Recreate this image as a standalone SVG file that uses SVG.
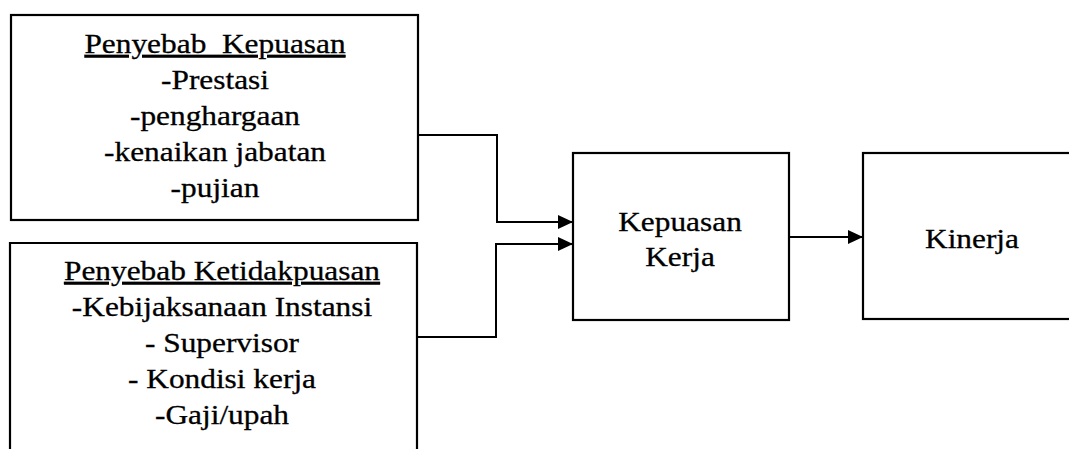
<svg xmlns="http://www.w3.org/2000/svg" width="1069" height="449" viewBox="0 0 1069 449">
<style>
.box{fill:#fff;stroke:#000;stroke-width:2.2}
.t{font-family:"Liberation Serif","Times New Roman",serif;font-size:28px;fill:#000;stroke:#000;stroke-width:0.3;text-anchor:middle}
.u{text-decoration:underline}
.c{fill:none;stroke:#000;stroke-width:2}
</style>
<defs>
<marker id="ah" markerUnits="userSpaceOnUse" markerWidth="16" markerHeight="14" refX="15" refY="7" orient="auto">
<path d="M0,0 L15,7 L0,14 z" fill="#000"/>
</marker>
</defs>
<rect width="1069" height="449" fill="#fff"/>
<g id="penyebab-kepuasan">
<rect class="box" x="11" y="15" width="407" height="205"/>
<g transform="translate(215,0) scale(1.12,1)">
<text class="t u" x="0" y="53" style="word-spacing:7px">Penyebab Kepuasan</text>
<text class="t" x="0" y="89">-Prestasi</text>
<text class="t" x="0" y="125">-penghargaan</text>
<text class="t" x="0" y="161">-kenaikan jabatan</text>
<text class="t" x="0" y="197">-pujian</text>
</g>
</g>
<g id="penyebab-ketidakpuasan">
<path class="box" d="M10,452 L10,243 L417,243 L417,452"/>
<g transform="translate(222,0) scale(1.12,1)">
<text class="t u" x="0" y="280">Penyebab Ketidakpuasan</text>
<text class="t" x="0" y="316">-Kebijaksanaan Instansi</text>
<text class="t" x="0" y="352">- Supervisor</text>
<text class="t" x="0" y="388">- Kondisi kerja</text>
<text class="t" x="0" y="424">-Gaji/upah</text>
</g>
</g>
<g id="kepuasan-kerja">
<rect class="box" x="573" y="153" width="216" height="167"/>
<g transform="translate(680,0) scale(1.12,1)">
<text class="t" x="0" y="231">Kepuasan</text>
<text class="t" x="0" y="266">Kerja</text>
</g>
</g>
<g id="kinerja">
<rect class="box" x="863" y="153" width="220" height="166"/>
<g transform="translate(972,0) scale(1.12,1)">
<text class="t" x="0" y="248">Kinerja</text>
</g>
</g>
<g id="connectors">
<path class="c" d="M418,135 L497,135 L497,222 L573,222" marker-end="url(#ah)"/>
<path class="c" d="M417,337 L496,337 L496,244 L573,244" marker-end="url(#ah)"/>
<path class="c" d="M789,237 L863,237" marker-end="url(#ah)"/>
</g>
</svg>
